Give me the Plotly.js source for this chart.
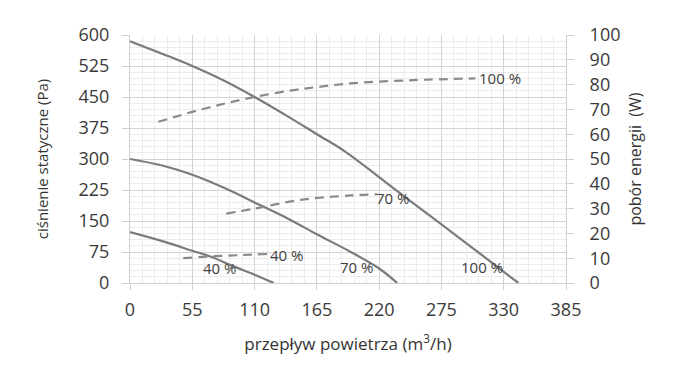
<!DOCTYPE html>
<html>
<head>
<meta charset="utf-8">
<script src="https://cdn.plot.ly/plotly-3.0.1.min.js"></script>
<style>html,body{margin:0;padding:0;background:#fff;}#chart{width:684px;height:369px;}</style>
</head>
<body>
<div id="chart"></div>
<script>
// Static pressure curves (Pa) vs airflow (m3/h)
const flow100 = [0, 30, 55, 85, 110, 140, 165, 190, 220, 250, 275, 300, 320, 343];
const pres100 = [585, 553, 525, 487, 450, 402, 360, 318, 256, 193, 142, 90, 48, 0];
const flow70 = [0, 30, 55, 85, 110, 140, 165, 195, 220, 236];
const pres70 = [300, 283, 262, 228, 195, 155, 118, 75, 35, 0];
const flow40 = [0, 30, 55, 71, 90, 110, 127];
const pres40 = [123, 100, 78, 64, 42, 20, 0];
// Power consumption curves (W) vs airflow
const pflow100 = [25, 55, 85, 110, 140, 165, 195, 250, 305];
const power100 = [65, 69, 72.5, 75, 77.5, 79, 80.5, 81.8, 82.5];
const pflow70 = [85, 110, 150, 195, 218];
const power70 = [28, 30, 33.5, 35.3, 35.8];
const pflow40 = [47, 75, 100, 121];
const power40 = [10, 10.8, 11.3, 11.7];
// Tick values
const xTicks = [0, 55, 110, 165, 220, 275, 330, 385];
const yTicks = [0, 75, 150, 225, 300, 375, 450, 525, 600];
const y2Ticks = [0, 10, 20, 30, 40, 50, 60, 70, 80, 90, 100];
// Curve labels
const solidLabels = [{x: 79, y: 36, t: '40 %'}, {x: 200, y: 39, t: '70 %'}, {x: 311, y: 38, t: '100 %'}];
const dashLabels = [{x: 138, y: 11.3, t: '40 %'}, {x: 232, y: 34.4, t: '70 %'}, {x: 327, y: 82.7, t: '100 %'}];

const lineCol = '#7b7b7b';
const traces = [
  {x: flow100, y: pres100, line: {color: lineCol, width: 2.2, shape: 'spline'}},
  {x: flow70, y: pres70, line: {color: lineCol, width: 2.2, shape: 'spline'}},
  {x: flow40, y: pres40, line: {color: lineCol, width: 2.2, shape: 'spline'}},
  {x: pflow100, y: power100, yaxis: 'y2', line: {color: '#8a8a8a', width: 2.2, dash: '9px,6px', shape: 'spline'}},
  {x: pflow70, y: power70, yaxis: 'y2', line: {color: '#8a8a8a', width: 2.2, dash: '9px,6px', shape: 'spline'}},
  {x: pflow40, y: power40, yaxis: 'y2', line: {color: '#8a8a8a', width: 2.2, dash: '9px,6px', shape: 'spline'}}
].map(t => Object.assign({type: 'scatter', mode: 'lines', hoverinfo: 'skip', showlegend: false}, t));

const labelFont = {family: 'Open Sans', size: 15, color: '#404040'};
const annotations = solidLabels.map(l => ({x: l.x, y: l.y, xref: 'x', yref: 'y', text: l.t, showarrow: false, font: labelFont}))
  .concat(dashLabels.map(l => ({x: l.x, y: l.y, xref: 'x', yref: 'y2', text: l.t, showarrow: false, font: labelFont})));

const tickFont = {family: 'Open Sans', size: 18, color: '#3a3a3a'};
const layout = {
  width: 684, height: 369,
  margin: {l: 130, r: 118, t: 35, b: 86},
  paper_bgcolor: '#fff', plot_bgcolor: '#fff',
  font: {family: 'Open Sans'},
  xaxis: {
    range: [0, 385], tickvals: xTicks, ticktext: xTicks.map(String),
    showgrid: true, gridcolor: '#d4d4d4', gridwidth: 1,
    minor: {dtick: 11, showgrid: true, gridcolor: '#ececec', gridwidth: 1},
    ticks: 'outside', ticklen: 6, tickcolor: '#cfcfcf',
    showline: true, linecolor: '#cfcfcf', zeroline: false,
    tickfont: tickFont, ticklabelstandoff: 4, automargin: true,
    title: {text: 'przepływ powietrza (m<sup>3</sup>/h)', font: {family: 'Open Sans', size: 17, color: '#333'}, standoff: 18}
  },
  yaxis: {
    range: [0, 600], tickvals: yTicks, ticktext: yTicks.map(String),
    showgrid: true, gridcolor: '#d4d4d4', gridwidth: 1,
    minor: {dtick: 15, showgrid: true, gridcolor: '#ececec', gridwidth: 1},
    ticks: 'outside', ticklen: 7, tickcolor: '#cfcfcf',
    showline: true, linecolor: '#cfcfcf', zeroline: false,
    tickfont: tickFont, ticklabelstandoff: 9, automargin: true,
    title: {text: 'ciśnienie statyczne (Pa)', font: {family: 'Open Sans', size: 15, color: '#333'}, standoff: 26}
  },
  yaxis2: {
    range: [0, 100], tickvals: y2Ticks, ticktext: y2Ticks.map(String),
    overlaying: 'y', side: 'right', showgrid: false,
    ticks: 'outside', ticklen: 7, tickcolor: '#cfcfcf',
    showline: true, linecolor: '#cfcfcf', zeroline: false,
    tickfont: tickFont, ticklabelstandoff: 12,
    title: {text: 'pobór energii  (W)', font: {family: 'Open Sans', size: 16, color: '#333'}, standoff: 10}
  },
  annotations: annotations
};
Plotly.newPlot('chart', traces, layout, {staticPlot: true, displayModeBar: false});
</script>
</body>
</html>
